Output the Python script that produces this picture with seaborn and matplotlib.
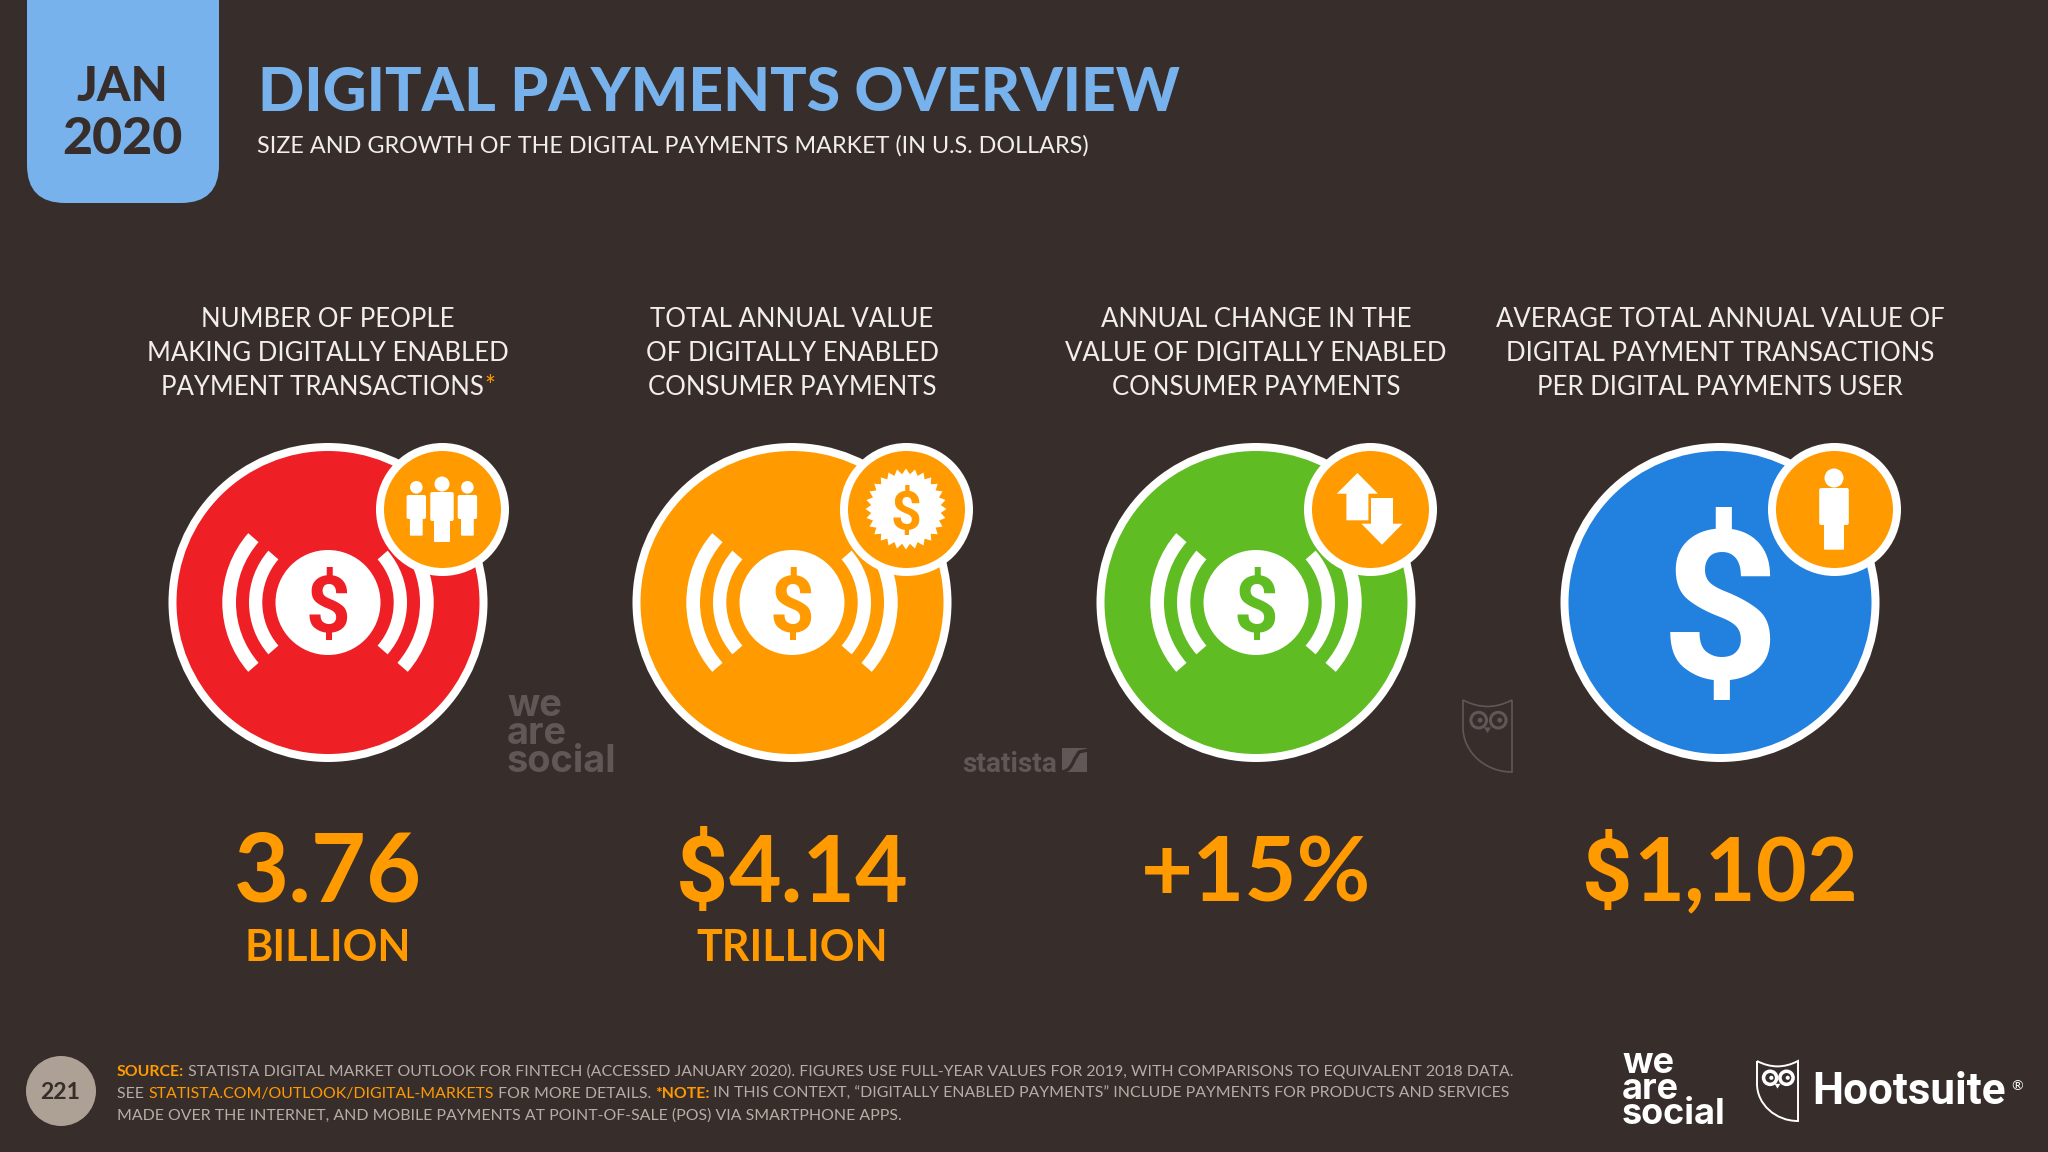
from __future__ import annotations

import matplotlib
matplotlib.use("Agg")
import matplotlib.pyplot as plt
import numpy as np
import pandas as pd
import seaborn as sns
from matplotlib.patches import Circle, FancyBboxPatch, PathPatch, Polygon, Wedge
from matplotlib.path import Path

# chart content
METRICS = ["people", "value", "change", "average"]
HEADER_LINES = [
    ["NUMBER OF PEOPLE", "MAKING DIGITALLY ENABLED", "PAYMENT TRANSACTIONS"],
    ["TOTAL ANNUAL VALUE", "OF DIGITALLY ENABLED", "CONSUMER PAYMENTS"],
    ["ANNUAL CHANGE IN THE", "VALUE OF DIGITALLY ENABLED", "CONSUMER PAYMENTS"],
    ["AVERAGE TOTAL ANNUAL VALUE OF", "DIGITAL PAYMENT TRANSACTIONS", "PER DIGITAL PAYMENTS USER"],
]
VALUE_LABELS = ["3.76", "$4.14", "+15%", "$1,102"]
UNIT_LABELS = ["BILLION", "TRILLION", "", ""]

BG = "#372E2C"
TAB = "#78B2EC"
ORANGE = "#FF9A00"
WHITE = "#FFFFFF"
TEXT = "#F1EEEB"
FOOT = "#B5ADA6"
GHOST = "#5F5856"
CIRCLE_COLORS = dict(zip(METRICS, ["#EE1F25", "#FF9A00", "#5FBC22", "#2280DF"]))

PX = 0.72  # points per pixel at dpi 100
FONT = "Lato"
DOLLAR_FONT = "Roboto"

COL_X = np.array([328, 792, 1256, 1720])
VALUE_SIZES = [95, 91, 90, 88]
BIG_Y = 602.5
BADGE_DX, BADGE_DY = 114, -93.5


def px_text(ax, x, y, s, size, color=TEXT, ha="center", weight="normal", family=FONT, z=6):
    return ax.text(x, y, s, fontsize=size * PX, color=color, ha=ha, va="baseline",
                   fontweight=weight, family=family, zorder=z)


def text_width(ax, s, size, weight="normal", family=FONT):
    # measured with a trailing dot so that spaces at the end count
    rend = ax.figure.canvas.get_renderer()
    a = px_text(ax, 0, 0, s + ".", size, weight=weight, family=family)
    b = px_text(ax, 0, 0, ".", size, weight=weight, family=family)
    w = a.get_window_extent(rend).width - b.get_window_extent(rend).width
    a.remove()
    b.remove()
    return w


def segments(ax, x, y, parts, size, centered=False):
    if centered:
        x -= sum(text_width(ax, s, size, weight=w) for s, _, w in parts) / 2
    for s, color, w in parts:
        px_text(ax, x, y, s, size, color=color, ha="left", weight=w)
        x += text_width(ax, s, size, weight=w)


def value_text(ax, cx, y, label, size):
    # Lato's dollar sign leans over, so that glyph comes from another family
    if not label.startswith("$"):
        px_text(ax, cx, y, label, size, color=ORANGE, weight="bold")
        return
    rest = label[1:]
    w0 = text_width(ax, "$", size, weight="bold", family=DOLLAR_FONT)
    w1 = text_width(ax, rest, size, weight="bold")
    x = cx - (w0 + w1) / 2
    px_text(ax, x, y, "$", size, color=ORANGE, ha="left", weight="bold", family=DOLLAR_FONT)
    px_text(ax, x + w0, y, rest, size, color=ORANGE, ha="left", weight="bold")


def draw_circles(ax):
    df = pd.DataFrame({"metric": METRICS, "x": COL_X, "y": BIG_Y})
    sns.scatterplot(data=df, x="x", y="y", hue="metric", palette=CIRCLE_COLORS, s=(311 * PX) ** 2,
                    edgecolor=WHITE, linewidth=8 * PX, legend=False, ax=ax, zorder=2)
    badges = df.assign(x=df["x"] + BADGE_DX, y=df["y"] + BADGE_DY, metric="badge")
    sns.scatterplot(data=badges, x="x", y="y", color=ORANGE, s=(125 * PX) ** 2,
                    edgecolor=WHITE, linewidth=8 * PX, legend=False, ax=ax, zorder=4)


def signal_icon(ax, cx, cy, color):
    ax.add_patch(Circle((cx, cy), 52.5, fc=WHITE, ec="none", zorder=3))
    for r, w in [(79, 13.3), (105.7, 13.7)]:
        ax.add_patch(Wedge((cx, cy), r, -41, 41, width=w, fc=WHITE, ec="none", zorder=3))
        ax.add_patch(Wedge((cx, cy), r, 139, 221, width=w, fc=WHITE, ec="none", zorder=3))
    px_text(ax, cx, cy + 29, "$", 78, color=color, weight="bold", family=DOLLAR_FONT, z=3.5)


def person(ax, cx, cy, head_y, head_r, top, arm, bottom, body_w, leg_w):
    ax.add_patch(Circle((cx, cy + head_y), head_r, fc=WHITE, ec="none", zorder=5))
    ax.add_patch(FancyBboxPatch((cx - body_w + 2, cy + top + 2), 2 * body_w - 4, arm - top - 4,
                                boxstyle="round,pad=2", fc=WHITE, ec="none", zorder=5))
    ax.add_patch(FancyBboxPatch((cx - leg_w + 1, cy + top + 5), 2 * leg_w - 2, bottom - top - 6,
                                boxstyle="round,pad=1", fc=WHITE, ec="none", zorder=5))


def people_badge(ax, cx, cy):
    person(ax, cx, cy, -25, 7.5, -17, 12, 33, 11.7, 8)
    person(ax, cx - 25.7, cy, -21.7, 6.3, -14, 10, 26.7, 9.7, 6.4)
    person(ax, cx + 25.4, cy, -21.7, 6.3, -14, 10, 26.7, 9.7, 6.4)


def burst_badge(ax, cx, cy):
    n = 28
    ang = np.linspace(0, 2 * np.pi, 2 * n, endpoint=False)
    rad = np.where(np.arange(2 * n) % 2 == 0, 40.5, 35)
    pts = np.c_[cx + rad * np.cos(ang), cy + rad * np.sin(ang)]
    ax.add_patch(Polygon(pts, closed=True, fc=WHITE, ec="none", zorder=5))
    px_text(ax, cx, cy + 20, "$", 54, color=ORANGE, weight="bold", family=DOLLAR_FONT, z=5.5)


def arrows_badge(ax, cx, cy):
    ux, dx = cx - 12.6, cx + 12
    up = [(ux, cy - 36), (ux + 20.6, cy - 15.3), (ux + 11, cy - 15.3), (ux + 11, cy + 11.3),
          (ux - 11, cy + 11.3), (ux - 11, cy - 15.3), (ux - 20.6, cy - 15.3)]
    down = [(dx, cy + 35.7), (dx + 20.6, cy + 14.7), (dx + 11, cy + 14.7), (dx + 11, cy - 11),
            (dx - 11, cy - 11), (dx - 11, cy + 14.7), (dx - 20.6, cy + 14.7)]
    ax.add_patch(Polygon(up, closed=True, fc=WHITE, ec="none", zorder=5))
    ax.add_patch(Polygon(down, closed=True, fc=WHITE, ec="none", zorder=5))


def owl(ax, x, y, w, h, color, lw):
    verts = [(0, 0), (0.25, 0.09), (0.5, 0.09), (0.75, 0.09), (1, 0), (1, 1),
             (0.45, 1), (0, 0.72), (0, 0.38), (0, 0)]
    codes = [Path.MOVETO, Path.CURVE3, Path.CURVE3, Path.CURVE3, Path.CURVE3, Path.LINETO,
             Path.CURVE4, Path.CURVE4, Path.CURVE4, Path.LINETO]
    pts = [(x + u * w, y + v * h) for u, v in verts]
    ax.add_patch(PathPatch(Path(pts, codes), fc="none", ec=color, lw=lw, zorder=6))
    for u in (0.32, 0.72):
        ax.add_patch(Circle((x + u * w, y + 0.28 * h), 0.16 * w, fc="none", ec=color, lw=lw * 1.8, zorder=6))
        ax.add_patch(Circle((x + (u + 0.03) * w, y + 0.28 * h), 0.05 * w, fc=color, ec="none", zorder=6))
    beak = [(x + 0.43 * w, y + 0.38 * h), (x + 0.57 * w, y + 0.38 * h), (x + 0.5 * w, y + 0.46 * h)]
    ax.add_patch(Polygon(beak, closed=True, fc=color, ec="none", zorder=6))


def wordmark(ax, x, y, color, size):
    # one text of three tight lines, y is the last line's baseline
    ax.text(x, y, "we\nare\nsocial", fontsize=size * PX, color=color, ha="left", va="baseline",
            ma="left", fontweight="bold", family="Inter", linespacing=0.71, zorder=6)


def statista(ax):
    px_text(ax, 962, 772, "statista", 28, color=GHOST, ha="left", weight="bold", family="Roboto")
    ax.add_patch(Polygon([(1062, 748), (1087, 748), (1087, 772), (1062, 772)], closed=True,
                         fc=GHOST, ec="none", zorder=6))
    s_curve = Path([(1060, 772), (1072, 772), (1073, 760), (1076, 757), (1079, 752), (1088, 750)],
                   [Path.MOVETO, Path.CURVE4, Path.CURVE4, Path.CURVE4, Path.LINETO, Path.LINETO])
    ax.add_patch(PathPatch(s_curve, fc="none", ec=BG, lw=2.4, zorder=6.5))


def draw_header(ax):
    ax.add_patch(FancyBboxPatch((27 + 38, -100), 192 - 76, 303 - 38,
                                boxstyle="round,pad=38", fc=TAB, ec="none", zorder=1))
    px_text(ax, 122, 101, "JAN", 48, color=BG, weight="black")
    px_text(ax, 122, 154, "2020", 52, color=BG, weight="black")
    px_text(ax, 258, 111, "DIGITAL PAYMENTS OVERVIEW", 60.6, color=TAB, ha="left", weight="black")
    px_text(ax, 257, 153, "SIZE AND GROWTH OF THE DIGITAL PAYMENTS MARKET (IN U.S. DOLLARS)", 23.4,
            ha="left")


def draw_columns(ax):
    for i, cx in enumerate(COL_X):
        for j, line in enumerate(HEADER_LINES[i]):
            y = 327 + j * 34
            if i == 0 and j == 2:
                segments(ax, cx, y, [(line, TEXT, "normal"), ("*", ORANGE, "normal")], 25.8, centered=True)
            else:
                px_text(ax, cx, y, line, 25.8)
        value_text(ax, cx, 901, VALUE_LABELS[i], VALUE_SIZES[i])
        if UNIT_LABELS[i]:
            px_text(ax, cx, 961, UNIT_LABELS[i], 43, color=ORANGE, weight="bold")


def draw_footer(ax):
    ax.add_patch(Circle((61, 1091), 35, fc="#ADA195", ec="none", zorder=3))
    px_text(ax, 60, 1099, "221", 23, color=BG, weight="bold")
    size = 15.9
    segments(ax, 117, 1076, [
        ("SOURCE:", ORANGE, "bold"),
        (" STATISTA DIGITAL MARKET OUTLOOK FOR FINTECH (ACCESSED JANUARY 2020). FIGURES USE FULL-YEAR "
         "VALUES FOR 2019, WITH COMPARISONS TO EQUIVALENT 2018 DATA.", FOOT, "normal"),
    ], size)
    segments(ax, 117, 1098, [
        ("SEE ", FOOT, "normal"),
        ("STATISTA.COM/OUTLOOK/DIGITAL-MARKETS", ORANGE, "normal"),
        (" FOR MORE DETAILS. ", FOOT, "normal"),
        ("*NOTE:", ORANGE, "bold"),
        (" IN THIS CONTEXT, \u201cDIGITALLY ENABLED PAYMENTS\u201d INCLUDE PAYMENTS FOR PRODUCTS AND SERVICES",
         FOOT, "normal"),
    ], size)
    segments(ax, 117, 1120, [
        ("MADE OVER THE INTERNET, AND MOBILE PAYMENTS AT POINT-OF-SALE (POS) VIA SMARTPHONE APPS.",
         FOOT, "normal"),
    ], size)
    wordmark(ax, 1622, 1124, WHITE, 36)
    owl(ax, 1757, 1061, 41, 60, WHITE, 1.4)
    px_text(ax, 1812, 1104, "Hootsuite", 44, color=WHITE, ha="left", weight="bold", family="Roboto")
    px_text(ax, 2011, 1090, "\u00ae", 14, color=WHITE, ha="left")


def main():
    sns.set_theme(style="white")
    plt.rcParams["font.family"] = [FONT, "DejaVu Sans"]
    fig = plt.figure(figsize=(20.48, 11.52), dpi=100, facecolor=BG)
    ax = fig.add_axes([0, 0, 1, 1])
    ax.set_facecolor(BG)
    fig.canvas.draw()

    draw_circles(ax)
    ax.set_xlim(0, 2048)
    ax.set_ylim(1152, 0)
    ax.axis("off")

    for metric, cx in zip(METRICS[:3], COL_X[:3]):
        signal_icon(ax, cx, BIG_Y, CIRCLE_COLORS[metric])
    px_text(ax, COL_X[3], BIG_Y + 75, "$", 207, color=WHITE, weight="bold", family=DOLLAR_FONT, z=3)

    bx, by = COL_X + BADGE_DX, BIG_Y + BADGE_DY
    people_badge(ax, bx[0], by)
    burst_badge(ax, bx[1], by)
    arrows_badge(ax, bx[2], by)
    person(ax, bx[3], by, -31, 9.5, -21, 16, 40.7, 14.8, 10)

    wordmark(ax, 507, 772, GHOST, 38)
    statista(ax)
    owl(ax, 1463, 700, 49, 72, GHOST, 1.2)

    draw_header(ax)
    draw_columns(ax)
    draw_footer(ax)

    fig.savefig("out.png", dpi=100, facecolor=BG)
    plt.close(fig)


if __name__ == "__main__":
    main()
